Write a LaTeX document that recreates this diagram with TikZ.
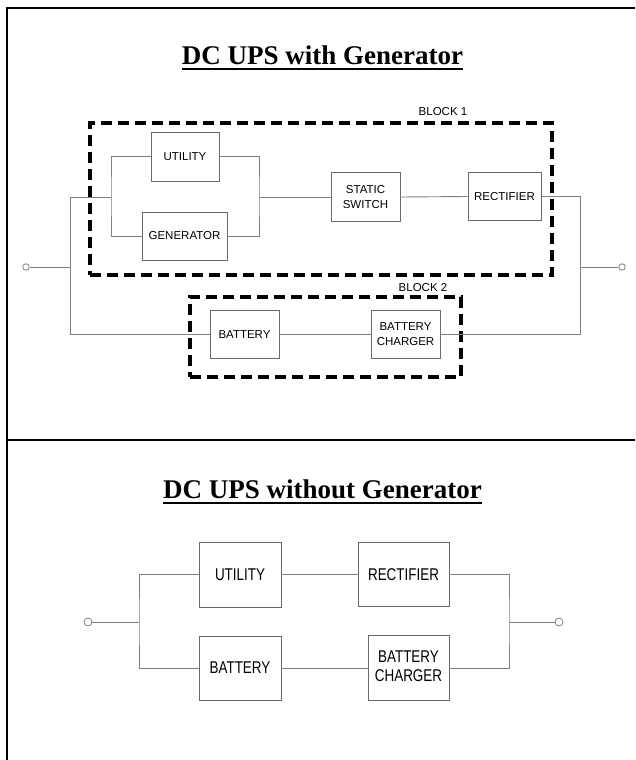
\documentclass[tikz,border=0pt]{standalone}
\usepackage{fontspec}
\newfontfamily\sansf{Liberation Sans}
\newfontfamily\serf{Liberation Serif}
\definecolor{wirec}{HTML}{808080}
\definecolor{boxc}{HTML}{6A6A6A}
\begin{document}
\begin{tikzpicture}[x=1pt,y=-1pt,
  frame/.style={line width=2pt,black},
  wire/.style={draw=wirec,line width=0.9pt},
  boxa/.style={draw=boxc,line width=0.9pt,inner sep=0pt,align=center,
     font=\sansf\fontsize{11.5}{15}\selectfont},
  boxb/.style={draw=boxc,line width=0.9pt,inner sep=0pt,align=center,
     font=\sansf\fontsize{17}{20}\selectfont},
  blk/.style={draw=black,line width=3.5pt,dash pattern=on 11pt off 6pt,inner sep=0pt},
  blklabel/.style={font=\sansf\fontsize{11.5}{14}\selectfont,inner sep=0pt},
  term/.style={circle,draw=wirec,fill=white,line width=0.8pt,inner sep=0pt,minimum size=6.5pt},
  ttl/.style={font=\serf\bfseries\fontsize{27}{30}\selectfont,inner sep=0pt,anchor=base},
  uline/.style={line width=2pt,black}
]
\useasboundingbox (0,0) rectangle (635,760);
% frame
\coordinate (fTL) at (7,8);
\coordinate (fTR) at (635,8);
\coordinate (fBL) at (7,760);
\coordinate (fDL) at (7,440);
\coordinate (fDR) at (635,440);
\draw[frame] (fTR) -- (fTL) -- (fBL);
\draw[frame] (fDL) -- (fDR);

% ---------- top diagram ----------
\node[ttl] (t1) at (322.5,64) {DC UPS with Generator};
\draw[uline] ([yshift=-5pt]t1.base west) -- ([yshift=-5pt]t1.base east);

\node[blk,minimum width=462pt,minimum height=152pt] (b1) at (321,199) {};
\node[blklabel] (b1l) at (443,112) {BLOCK 1};
\node[blk,minimum width=271pt,minimum height=80pt] (b2) at (325.5,337) {};
\node[blklabel] (b2l) at (423,288) {BLOCK 2};

\node[boxa,minimum width=68pt,minimum height=49pt] (util) at (185,156.5) {UTILITY};
\node[boxa,minimum width=85pt,minimum height=48pt] (gen) at (184.5,236) {GENERATOR};
\node[boxa,minimum width=69pt,minimum height=49pt] (ss) at (365.5,197) {STATIC\\SWITCH};
\node[boxa,minimum width=73pt,minimum height=48pt] (rect) at (504.5,196.5) {RECTIFIER};
\node[boxa,minimum width=69pt,minimum height=48pt] (bat) at (244.5,334.5) {BATTERY};
\node[boxa,minimum width=69pt,minimum height=48pt] (chg) at (405.5,334.5) {BATTERY\\CHARGER};

\node[term] (inT) at (26,267) {};
\node[term] (outT) at (622,267) {};

\coordinate (jL) at (111,197);
\coordinate (jR) at (259,197);
\coordinate (busL) at (70,197);
\coordinate (tapL) at (70,267);
\coordinate (busRb) at (580,334.5);
\coordinate (tapR) at (580,267);

\draw[wire] (util.west) -| (jL) |- (gen.west);
\draw[wire] (util.east) -| (jR) |- (gen.east);
\draw[wire] (jL) -- (busL) |- (bat.west);
\draw[wire] (jR) -- (ss.west);
\draw[wire] (ss.east) -- (rect.west);
\draw[wire] (rect.east) -| (busRb) -- (chg.east);
\draw[wire] (bat.east) -- (chg.west);
\draw[wire] (inT) -- (tapL);
\draw[wire] (tapR) -- (outT);

% ---------- bottom diagram ----------
\node[ttl] (t2) at (322.5,498) {DC UPS without Generator};
\draw[uline] ([yshift=-5pt]t2.base west) -- ([yshift=-5pt]t2.base east);

\node[boxb,minimum width=82pt,minimum height=65pt] (util2) at (240,574.5) {\scalebox{0.79}[1]{UTILITY}};
\node[boxb,minimum width=82pt,minimum height=64pt] (bat2) at (240,668) {\scalebox{0.79}[1]{BATTERY}};
\node[boxb,minimum width=91pt,minimum height=64pt] (rect2) at (403.5,574.5) {\scalebox{0.79}[1]{RECTIFIER}};
\node[boxb,minimum width=81pt,minimum height=65pt] (chg2) at (408.5,668) {\scalebox{0.79}[1]{\begin{tabular}{@{}c@{}}BATTERY\\[-1pt]CHARGER\end{tabular}}};

\node[term,minimum size=8pt] (inB) at (88,622) {};
\node[term,minimum size=8pt] (outB) at (559,622) {};
\coordinate (jL2) at (139,622);
\coordinate (jR2) at (509,622);

\draw[wire] (inB) -- (jL2);
\draw[wire] (util2.west) -| (jL2) |- (bat2.west);
\draw[wire] (util2.east) -- (rect2.west);
\draw[wire] (bat2.east) -- (chg2.west);
\draw[wire] (rect2.east) -| (jR2) |- (chg2.east);
\draw[wire] (jR2) -- (outB);
\end{tikzpicture}
\end{document}
